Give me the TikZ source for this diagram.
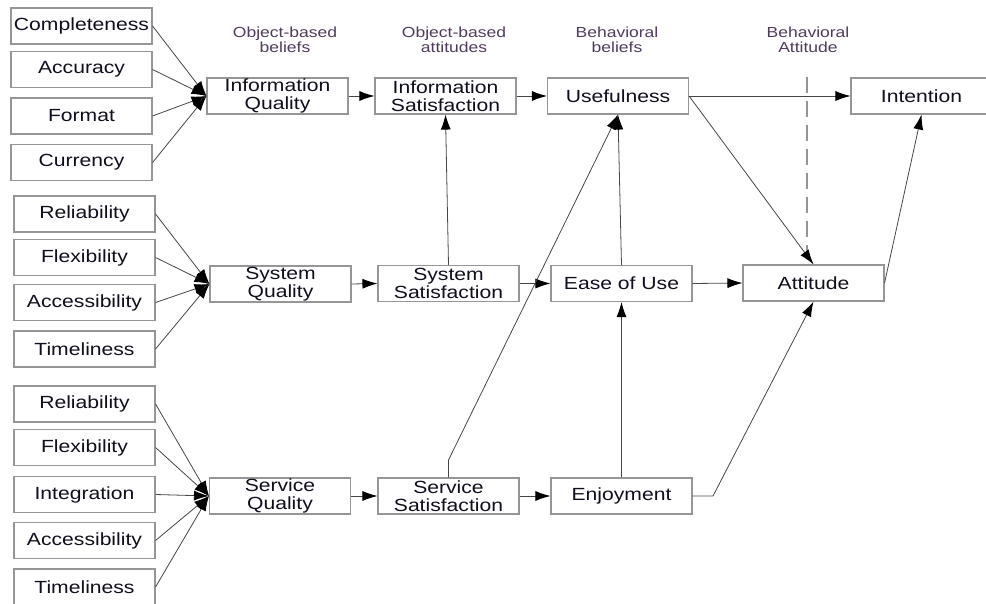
\documentclass[tikz,border=0pt]{standalone}
\usepackage{fontspec}
\setmainfont[FakeStretch=1.2]{Liberation Sans}
\usetikzlibrary{arrows.meta}
\definecolor{boxline}{RGB}{150,150,150}
\definecolor{wire}{RGB}{70,70,70}
\definecolor{headtext}{RGB}{80,60,90}
\definecolor{boxtext}{RGB}{15,15,30}
\begin{document}
\begin{tikzpicture}[x=1pt,y=-1pt,
  box/.style={draw=boxline,line width=1.1pt,fill=white,inner sep=0pt,
    minimum width=141pt,minimum height=36pt,align=center,text=boxtext,
    font=\fontsize{17.6}{17.5}\selectfont},
  head/.style={align=center,text=headtext,font=\fontsize{14.6}{15}\selectfont},
  arr/.style={draw=wire,line width=0.8pt,-{Latex[length=15pt,width=10pt,black]}},
  plain/.style={draw=wire,line width=0.8pt}]
\useasboundingbox (0,0) rectangle (986,604);
\clip (0,0) rectangle (986,604);

% column headings
\node[head] (h1) at (285,40) {Object-based\\beliefs};
\node[head] (h2) at (454,40) {Object-based\\attitudes};
\node[head] (h3) at (617,40) {Behavioral\\beliefs};
\node[head] (h4) at (808,40) {Behavioral\\Attitude};

% dashed divider
\coordinate (d1) at (807,77);
\coordinate (d2) at (807,252);
\draw[boxline,line width=1.5pt,dash pattern=on 16pt off 8pt] (d1) -- (d2);

% information quality inputs
\node[box] (c1) at (81.5,26)    {Completeness};
\node[box] (c2) at (81.5,69.5)  {Accuracy};
\node[box] (c3) at (81.5,116)   {Format};
\node[box] (c4) at (81.5,162.5) {Currency};

% system quality inputs
\node[box] (s1) at (84.5,214)   {Reliability};
\node[box] (s2) at (84.5,257.5) {Flexibility};
\node[box] (s3) at (84.5,302.5) {Accessibility};
\node[box] (s4) at (84.5,349)   {Timeliness};

% service quality inputs
\node[box] (v1) at (84.5,404)   {Reliability};
\node[box] (v2) at (84.5,447.5) {Flexibility};
\node[box] (v3) at (84.5,494.5) {Integration};
\node[box] (v4) at (84.5,540.5) {Accessibility};
\node[box] (v5) at (84.5,587)   {Timeliness};

% main constructs
\node[box] (iq)  at (277.5,96)  {Information\\Quality};
\node[box] (is)  at (445.5,96)  {Information\\Satisfaction};
\node[box] (use) at (618,96)    {Usefulness};
\node[box] (int) at (921.5,96)  {Intention};

\node[box] (sq)  at (280.5,284) {System\\Quality};
\node[box] (sys) at (448.5,283.5) {System\\Satisfaction};
\node[box] (eou) at (621.5,283.5) {Ease of Use};
\node[box] (att) at (813.5,283) {Attitude};

\node[box] (svq) at (280,496)   {Service\\Quality};
\node[box] (svs) at (448.5,496) {Service\\Satisfaction};
\node[box] (enj) at (621.5,496) {Enjoyment};

% inputs to the quality constructs
\foreach \n in {c1,c2,c3,c4} \draw[arr] (\n.east) -- (iq.west);
\foreach \n in {s1,s2,s3,s4} \draw[arr] (\n.east) -- (sq.west);
\foreach \n in {v1,v2,v3,v4,v5} \draw[arr] (\n.east) -- (svq.west);

% chains along each row
\draw[arr] (iq.east) -- (is.west);
\draw[arr] (is.east) -- (use.west);
\draw[arr] (use.east) -- (int.west);
\draw[arr] (sq.east) -- (sys.west);
\draw[arr] (sys.east) -- (eou.west);
\draw[arr] (eou.east) -- (att.west);
\draw[arr] (svq.east) -- (svs.west);
\draw[arr] (svs.east) -- (enj.west);

% cross links
\draw[arr] (sys.north) -- (is.south);
\draw[arr] (eou.north) -- (use.south);
\coordinate (b1) at (448.5,460);
\draw[arr] (svs.north) -- (b1) -- (use.south);
\draw[arr] (enj.north) -- (eou.south);
\coordinate (b2) at (713,496);
\draw[arr] (enj.east) -- (b2) -- (att.south);
\draw[arr] (use.east) -- (att.north);
\draw[arr] (att.east) -- (int.south);
\end{tikzpicture}
\end{document}
